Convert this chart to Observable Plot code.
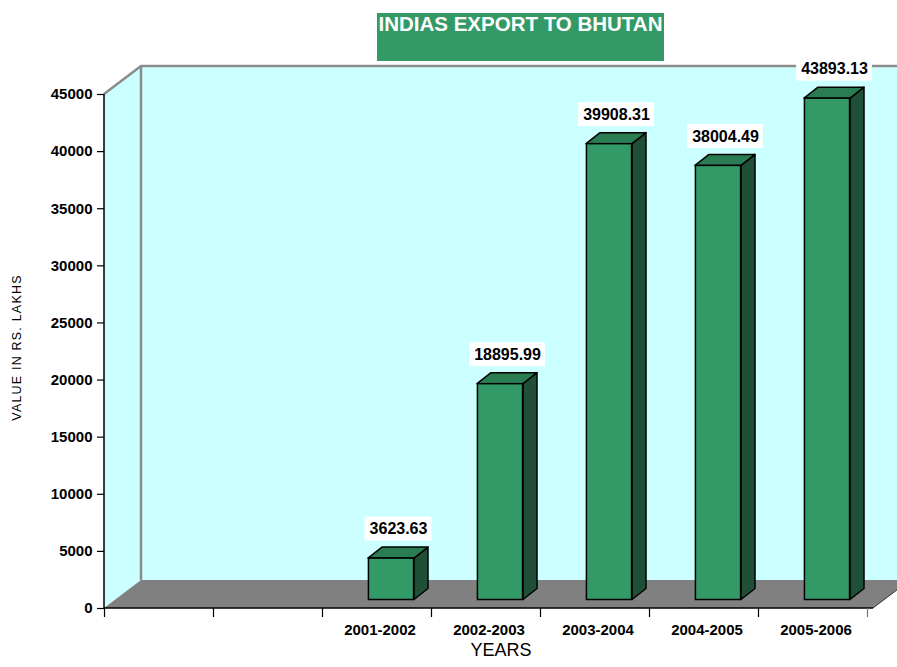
<!DOCTYPE html>
<html>
<head>
<meta charset="utf-8">
<script src="https://cdn.jsdelivr.net/npm/d3@7"></script>
<script src="https://cdn.jsdelivr.net/npm/@observablehq/plot@0.6"></script>
<style>
  html, body { margin: 0; padding: 0; background: #fff; }
  body { width: 897px; height: 667px; overflow: hidden; font-family: "Liberation Sans", Arial, sans-serif; }
  #title { position: relative; height: 62px; }
  #title div {
    position: absolute; left: 377px; top: 13px; width: 287px; height: 48px;
    background: #339966; color: #fff; font-weight: bold; font-size: 20.5px;
    line-height: 21px; text-align: center; white-space: nowrap; letter-spacing: 0px;
  }
  #chart svg { display: block; }
  .ylab text { letter-spacing: 1.2px; }
</style>
</head>
<body>
<div id="title"><div>INDIAS EXPORT TO BHUTAN</div></div>
<div id="chart"></div>
<script>
// ---- data ----
const years = ["2001-2002", "2002-2003", "2003-2004", "2004-2005", "2005-2006"];
const exportValues = [3623.63, 18895.99, 39908.31, 38004.49, 43893.13];
const emptySlots = ["", " "];
const yTicks = [0, 5000, 10000, 15000, 20000, 25000, 30000, 35000, 40000, 45000];
const yMax = 45000;

const data = years.map((year, i) => ({year, value: exportValues[i]}));
const slots = [...emptySlots, ...years];

// ---- look ----
const FONT = '"Liberation Sans", Arial, sans-serif';
const DEPTH_X = 37, DEPTH_Y = -28;       // 3D depth of the chart box
const FRONT_X = 11.5, FRONT_Y = -8.5;    // bar front face offset into the box
const BAR_DX = 14, BAR_DY = -11;         // bar depth
const BAR_W = 46;
const LABEL_UP = 29.5;
const WALL = "#ccffff", FLOOR = "#808080", EDGE = "#8c8c8c";
const FRONT = "#339966", TOP = "#2a7d53", SIDE = "#1f4f36";

const measure = (() => {
  const ctx = document.createElement("canvas").getContext("2d");
  ctx.font = `bold 16px ${FONT}`;
  return s => ctx.measureText(s).width;
})();

function boxGeom(scales, dims) {
  const bw = typeof scales.x.bandwidth === "function" ? scales.x.bandwidth()
    : (dims.width - dims.marginLeft - dims.marginRight) / slots.length;
  return bw;
}

function walls(index, scales, values, dims) {
  const {width, marginLeft, marginRight} = dims;
  const x0 = marginLeft, x1 = width - marginRight;
  const y0 = scales.y(0), yT = scales.y(yMax);
  const bw = boxGeom(scales, dims);
  const g = d3.create("svg:g");
  g.append("path").attr("fill", WALL)
    .attr("d", `M${x0},${yT}L${x0 + DEPTH_X},${yT + DEPTH_Y}L${x0 + DEPTH_X},${y0 + DEPTH_Y}L${x0},${y0}Z`);
  g.append("rect").attr("fill", WALL)
    .attr("x", x0 + DEPTH_X).attr("y", yT + DEPTH_Y).attr("width", x1 - x0).attr("height", y0 - yT);
  g.append("path").attr("fill", FLOOR)
    .attr("d", `M${x0},${y0}L${x0 + DEPTH_X},${y0 + DEPTH_Y}L${x1 + DEPTH_X},${y0 + DEPTH_Y}L${x1},${y0}Z`);
  g.append("path").attr("fill", "none").attr("stroke", EDGE).attr("stroke-width", 2.5)
    .attr("d", `M${x0},${yT}L${x0 + DEPTH_X},${yT + DEPTH_Y}L${x1 + DEPTH_X + 20},${yT + DEPTH_Y}M${x0 + DEPTH_X},${yT + DEPTH_Y}L${x0 + DEPTH_X},${y0 + DEPTH_Y}`);
  g.append("path").attr("fill", "none").attr("stroke", "#333").attr("stroke-width", 1)
    .attr("d", `M${x1},${y0}L${x1 + DEPTH_X},${y0 + DEPTH_Y}`);
  // axis lines
  g.append("path").attr("fill", "none").attr("stroke", "#000").attr("stroke-width", 1.5)
    .attr("d", `M${x0},${yT}L${x0},${y0}L${x1},${y0}`);
  // category boundary ticks
  for (let i = 0; i <= slots.length; i++) {
    const xx = Math.round(x0 + i * bw) + 0.5;
    g.append("line").attr("x1", xx).attr("x2", xx).attr("y1", y0).attr("y2", y0 + 9)
      .attr("stroke", i === slots.length ? "#777" : "#000").attr("stroke-width", 1.2);
  }
  return g.node();
}

function barSides(index, scales, values, dims) {
  const bw = boxGeom(scales, dims);
  const g = d3.create("svg:g").attr("stroke", "#000").attr("stroke-width", 1.5).attr("stroke-linejoin", "round");
  data.forEach(d => {
    const cx = scales.x(d.year) + bw / 2 + FRONT_X;
    const xl = cx - BAR_W / 2, xr = cx + BAR_W / 2;
    const yt = scales.y(d.value) + FRONT_Y, yb = scales.y(0) + FRONT_Y;
    g.append("path").attr("fill", SIDE)
      .attr("d", `M${xr},${yt}L${xr + BAR_DX},${yt + BAR_DY}L${xr + BAR_DX},${yb + BAR_DY}L${xr},${yb}Z`);
    g.append("path").attr("fill", TOP)
      .attr("d", `M${xl},${yt}L${xl + BAR_DX},${yt + BAR_DY}L${xr + BAR_DX},${yt + BAR_DY}L${xr},${yt}Z`);
  });
  return g.node();
}

function labelBoxes(index, scales, values, dims) {
  const bw = boxGeom(scales, dims);
  const g = d3.create("svg:g").attr("fill", "#fff");
  data.forEach(d => {
    const cx = scales.x(d.year) + bw / 2 + FRONT_X + BAR_DX / 2;
    const cy = scales.y(d.value) + FRONT_Y - LABEL_UP;
    const w = measure(d.value.toFixed(2)) + 9;
    g.append("rect").attr("x", cx - w / 2).attr("y", cy - 12).attr("width", w).attr("height", 24);
  });
  return g.node();
}

const W = 897, H = 605;
const ML = 104, MR = 24, MT = 32, MB = 59;
const bandW = (W - ML - MR) / slots.length;
const inset = (bandW - BAR_W) / 2;

const chart = Plot.plot({
  width: W, height: H,
  marginLeft: ML, marginRight: MR, marginTop: MT, marginBottom: MB,
  style: {fontFamily: FONT, background: "transparent", overflow: "visible"},
  x: {type: "band", domain: slots, paddingInner: 0, paddingOuter: 0, axis: null},
  y: {domain: [0, yMax], axis: null},
  marks: [
    walls,
    barSides,
    Plot.barY(data, {
      x: "year", y: "value", fill: FRONT, stroke: "#000", strokeWidth: 1.5,
      insetLeft: inset, insetRight: inset, dx: FRONT_X, dy: FRONT_Y
    }),
    labelBoxes,
    Plot.text(data, {
      x: "year", y: "value", text: d => d.value.toFixed(2),
      dx: FRONT_X + BAR_DX / 2, dy: FRONT_Y - LABEL_UP,
      fontWeight: "bold", fontSize: 16, fill: "#000"
    }),
    Plot.axisY({
      ticks: yTicks, tickSize: 7, tickPadding: 5, tickFormat: d => String(d),
      fontSize: 15, fontWeight: "bold", stroke: "#000", strokeWidth: 1.2, label: null
    }),
    Plot.axisX({
      tickSize: 0, tickPadding: 16, fontSize: 15, fontWeight: "bold", label: null
    }),
    Plot.text(["YEARS"], {
      frameAnchor: "bottom", dy: 47, dx: 12, textAnchor: "middle", fontSize: 18, fill: "#000"
    }),
    Plot.text(["VALUE IN RS. LAKHS"], {
      frameAnchor: "left", dx: -88, dy: -4, textAnchor: "middle", rotate: -90,
      fontSize: 12.5, fill: "#000", className: "ylab"
    })
  ]
});
document.getElementById("chart").appendChild(chart);
</script>
</body>
</html>
